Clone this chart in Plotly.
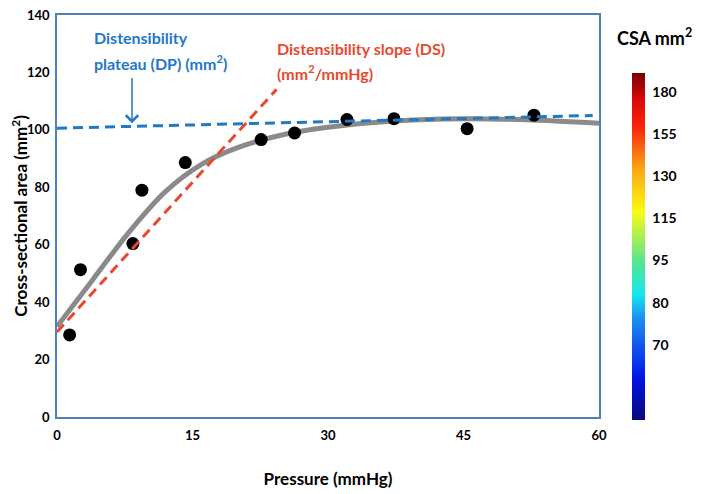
import plotly.graph_objects as go

# Measured data points
pressure_pts = [1.4, 2.6, 8.4, 9.4, 14.2, 22.6, 26.3, 32.1, 37.3, 45.4, 52.8]
csa_pts = [28.6, 51.3, 60.4, 79.0, 88.6, 96.6, 98.9, 103.6, 103.9, 100.4, 105.1]

# Fitted curve
fit_pressure = [0, 4, 8, 12, 16, 20, 25, 30, 37, 45, 52, 60]
fit_csa = [31.5, 48.0, 64.5, 78.5, 88.0, 93.8, 98.3, 100.9, 103.0, 103.9, 103.5, 102.3]

# Distensibility slope (red dashed)
ds_pressure = [0, 24.3]
ds_csa = [29.6, 114.1]

# Distensibility plateau (blue dashed)
dp_pressure = [0, 59.3]
dp_csa = [100.6, 105.0]

# Axis ticks
x_ticks = [0, 15, 30, 45, 60]
y_ticks = [0, 20, 40, 60, 80, 100, 120, 140]

# Colour bar labels (evenly spaced, non-linear values)
csa_bar_labels = ["70", "80", "95", "115", "130", "155", "180"]
csa_bar_index = [0, 1, 2, 3, 4, 5, 6]

FONT = "Lato"
BLUE = "#1f78c8"
RED = "#e8492e"
GREY = "#8a8a8a"
FRAME = "#4f81bd"

jet = [
    [0.0, "rgb(10,10,120)"],
    [0.12, "rgb(0,20,230)"],
    [0.30, "rgb(30,150,240)"],
    [0.36, "rgb(20,230,240)"],
    [0.46, "rgb(90,230,140)"],
    [0.60, "rgb(250,250,20)"],
    [0.72, "rgb(250,170,20)"],
    [0.84, "rgb(250,40,10)"],
    [0.92, "rgb(220,10,10)"],
    [1.0, "rgb(120,0,0)"],
]

fig = go.Figure()

fig.add_trace(go.Scatter(
    x=fit_pressure, y=fit_csa, mode="lines",
    line=dict(color=GREY, width=5, shape="spline", smoothing=0.9),
    showlegend=False, hoverinfo="skip"))

fig.add_trace(go.Scatter(
    x=pressure_pts, y=csa_pts, mode="markers",
    marker=dict(color="black", size=13),
    showlegend=False))

fig.add_trace(go.Scatter(
    x=ds_pressure, y=ds_csa, mode="lines",
    line=dict(color=RED, width=3, dash="10px,6px"),
    showlegend=False, hoverinfo="skip"))

fig.add_trace(go.Scatter(
    x=dp_pressure, y=dp_csa, mode="lines",
    line=dict(color=BLUE, width=3, dash="10px,6px"),
    showlegend=False, hoverinfo="skip"))

# Colour bar carrier
fig.add_trace(go.Scatter(
    x=[None], y=[None], mode="markers",
    marker=dict(
        color=[0], colorscale=jet, cmin=-1.78, cmax=6.46, showscale=True,
        colorbar=dict(
            x=1.0609, xanchor="left", xref="paper", xpad=0,
            y=0.8565, yanchor="top", yref="paper", ypad=0,
            thickness=13, thicknessmode="pixels",
            len=347, lenmode="pixels",
            outlinewidth=0,
            tickvals=csa_bar_index, ticktext=csa_bar_labels,
            ticks="outside", ticklen=5, tickcolor="rgba(0,0,0,0)",
            tickfont=dict(family=FONT, size=14, color="black", weight="bold"),
        )),
    showlegend=False, hoverinfo="skip"))

fig.update_layout(
    width=696, height=486,
    margin=dict(l=49, r=105, t=7, b=77, autoexpand=False),
    paper_bgcolor="white", plot_bgcolor="white",
    font=dict(family=FONT, color="black"),
    showlegend=False,
)

fig.update_xaxes(
    range=[0, 60], tickvals=x_ticks, ticks="", ticklabelstandoff=6,
    ticklabeloverflow="allow",
    showgrid=False, zeroline=False, automargin=False,
    showline=True, linecolor=FRAME, linewidth=1.5, mirror=True,
    tickfont=dict(family=FONT, size=13, color="black", weight="bold"),
    title=dict(text="Pressure (mmHg)", standoff=31,
               font=dict(family=FONT, size=17, color="black", weight="bold")),
)
fig.update_yaxes(
    range=[0, 140], tickvals=y_ticks, ticks="", ticklabelstandoff=3,
    ticklabeloverflow="allow",
    showgrid=False, zeroline=False, automargin=False,
    showline=True, linecolor=FRAME, linewidth=1.5, mirror=True,
    tickfont=dict(family=FONT, size=13, color="black", weight="bold"),
    title=dict(text="Cross-sectional area (mm<sup>2</sup>)", standoff=18,
               font=dict(family=FONT, size=17, color="black", weight="bold")),
)

def label(text, x, y, color, size=16):
    fig.add_annotation(
        text=text, x=x, y=y, xref="paper", yref="paper",
        xanchor="left", yanchor="middle", showarrow=False,
        font=dict(family=FONT, size=size, color=color, weight="bold"))

label("Distensibility", 0.0646, 0.945, BLUE)
label("plateau (DP) (mm<sup>2</sup>)", 0.0646, 0.883, BLUE)
label("Distensibility slope (DS)", 0.402, 0.916, RED)
label("(mm<sup>2</sup>/mmHg)", 0.402, 0.858, RED)
label("CSA mm<sup>2</sup>", 1.03, 0.945, "black", size=18)

# Arrow pointing at the plateau line
fig.add_annotation(
    x=8.3, y=102.3, ax=8.3, ay=118.6, xref="x", yref="y", axref="x", ayref="y",
    showarrow=True, arrowhead=4, arrowsize=1.6, arrowwidth=1.5,
    arrowcolor=BLUE, text="")

fig.write_html("out.html")
